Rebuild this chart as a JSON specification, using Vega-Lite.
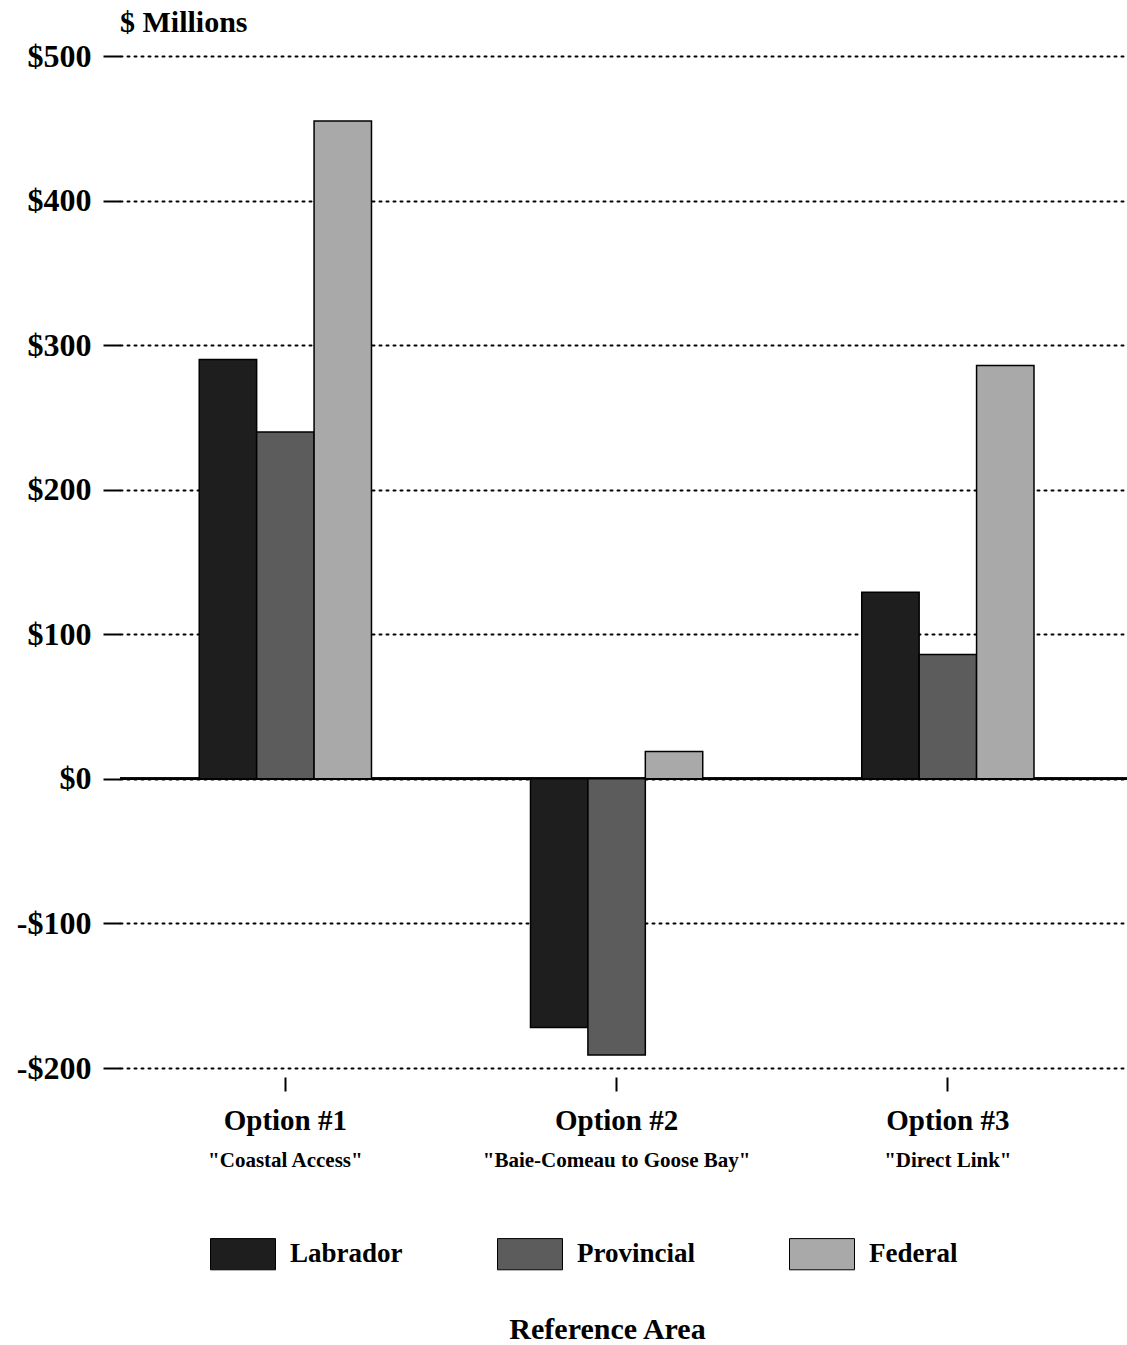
{
  "$schema": "https://vega.github.io/schema/vega-lite/v6.json",
  "autosize": "none",
  "width": 1007,
  "height": 1012,
  "padding": {"left": 120, "top": 56, "right": 0, "bottom": 277},
  "background": "white",
  "config": {
    "font": "Liberation Serif",
    "view": {"stroke": null}
  },
  "title": {
    "text": "$ Millions",
    "anchor": "start",
    "frame": "group",
    "font": "Liberation Serif",
    "fontSize": 30,
    "fontWeight": "bold",
    "color": "black",
    "offset": 2
  },
  "data": {
    "values": [
      {"option": "Option #1", "area": "Labrador", "value": 290},
      {"option": "Option #1", "area": "Provincial", "value": 240},
      {"option": "Option #1", "area": "Federal", "value": 455},
      {"option": "Option #2", "area": "Labrador", "value": -172},
      {"option": "Option #2", "area": "Provincial", "value": -191},
      {"option": "Option #2", "area": "Federal", "value": 19},
      {"option": "Option #3", "area": "Labrador", "value": 129},
      {"option": "Option #3", "area": "Provincial", "value": 86},
      {"option": "Option #3", "area": "Federal", "value": 286}
    ]
  },
  "resolve": {"axis": {"x": "independent"}},
  "layer": [
    {
      "mark": {"type": "point", "opacity": 0},
      "encoding": {
        "x": {
          "field": "option", "type": "nominal",
          "scale": {"paddingInner": 0.48, "paddingOuter": 0.26, "align": 0.46},
          "axis": {
            "orient": "bottom",
            "offset": 9,
            "domain": false,
            "ticks": false,
            "grid": false,
            "labelAngle": 0,
            "labelPadding": 72,
            "labelFont": "Liberation Serif",
            "labelFontSize": 21,
            "labelFontWeight": "bold",
            "labelColor": "black",
            "labelLimit": 500,
            "labelExpr": "datum.value == 'Option #1' ? '\"Coastal Access\"' : datum.value == 'Option #2' ? '\"Baie-Comeau to Goose Bay\"' : '\"Direct Link\"'",
            "title": "Reference Area",
            "titleFont": "Liberation Serif",
            "titleFontSize": 30,
            "titleFontWeight": "bold",
            "titleColor": "black",
            "titlePadding": 144,
            "titleX": 487,
            "titleAlign": "center"
          }
        },
        "y": {"field": "value", "type": "quantitative"}
      }
    },
    {
      "mark": {"type": "rule", "color": "black", "strokeWidth": 2},
      "encoding": {"y": {"datum": 0}}
    },
    {
      "mark": {"type": "bar", "stroke": "black", "strokeWidth": 1.5},
      "encoding": {
        "x": {
          "field": "option", "type": "nominal",
          "axis": {
            "orient": "bottom",
            "offset": 9,
            "domain": false,
            "tickSize": 14,
            "tickWidth": 2,
            "tickColor": "black",
            "grid": false,
            "labelAngle": 0,
            "labelPadding": 15,
            "labelFont": "Liberation Serif",
            "labelFontSize": 29,
            "labelFontWeight": "bold",
            "labelColor": "black",
            "title": null
          }
        },
        "xOffset": {"field": "area", "type": "nominal", "sort": ["Labrador", "Provincial", "Federal"]},
        "y": {
          "field": "value", "type": "quantitative",
          "scale": {"domain": [-200, 500], "nice": false, "zero": false},
          "axis": {
            "values": [-200, -100, 0, 100, 200, 300, 400, 500],
            "labelExpr": "datum.value < 0 ? '-$' + abs(datum.value) : '$' + datum.value",
            "domain": false,
            "tickSize": 17,
            "tickWidth": 2,
            "tickColor": "black",
            "labelPadding": 12,
            "labelFont": "Liberation Serif",
            "labelFontSize": 32,
            "labelFontWeight": "bold",
            "labelColor": "black",
            "grid": true,
            "gridColor": "black",
            "gridDash": [2, 5],
            "gridWidth": 2,
            "gridCap": "round",
            "gridOpacity": 1,
            "title": null
          }
        },
        "color": {
          "field": "area", "type": "nominal",
          "sort": ["Labrador", "Provincial", "Federal"],
          "scale": {"domain": ["Labrador", "Provincial", "Federal"], "range": ["#1e1e1e", "#5c5c5c", "#a9a9a9"]},
          "legend": {
            "orient": "none",
            "direction": "horizontal",
            "legendX": 90,
            "legendY": 1165,
            "title": null,
            "symbolType": "M-1,-0.48H1V0.48H-1Z",
            "symbolSize": 4225,
            "symbolStrokeColor": "black",
            "symbolStrokeWidth": 1,
            "symbolOpacity": 1,
            "labelFont": "Liberation Serif",
            "labelFontSize": 27,
            "labelFontWeight": "bold",
            "labelColor": "black",
            "labelOffset": 14,
            "columnPadding": 92,
            "labelLimit": 300
          }
        }
      }
    }
  ]
}
